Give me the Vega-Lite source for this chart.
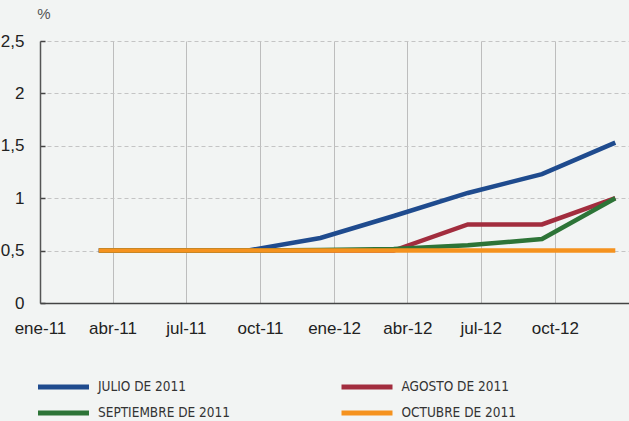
{
  "$schema": "https://vega.github.io/schema/vega-lite/v6.json",
  "width": 589,
  "height": 262,
  "autosize": {"type": "none"},
  "padding": {"left": 40, "top": 41, "right": 0, "bottom": 118},
  "background": "#f2f4f3",
  "config": {
    "view": {"stroke": null},
    "font": "Liberation Sans, Arial, Helvetica, sans-serif"
  },
  "data": {
    "values": [
      {"fecha": "2011-03-15", "serie": "JULIO DE 2011", "valor": 0.5},
      {"fecha": "2011-06-15", "serie": "JULIO DE 2011", "valor": 0.5},
      {"fecha": "2011-09-15", "serie": "JULIO DE 2011", "valor": 0.5},
      {"fecha": "2011-12-15", "serie": "JULIO DE 2011", "valor": 0.62},
      {"fecha": "2012-03-15", "serie": "JULIO DE 2011", "valor": 0.83},
      {"fecha": "2012-06-15", "serie": "JULIO DE 2011", "valor": 1.05},
      {"fecha": "2012-09-15", "serie": "JULIO DE 2011", "valor": 1.23},
      {"fecha": "2012-12-15", "serie": "JULIO DE 2011", "valor": 1.53},
      {"fecha": "2011-03-15", "serie": "AGOSTO DE 2011", "valor": 0.5},
      {"fecha": "2011-06-15", "serie": "AGOSTO DE 2011", "valor": 0.5},
      {"fecha": "2011-09-15", "serie": "AGOSTO DE 2011", "valor": 0.5},
      {"fecha": "2011-12-15", "serie": "AGOSTO DE 2011", "valor": 0.5},
      {"fecha": "2012-03-15", "serie": "AGOSTO DE 2011", "valor": 0.5},
      {"fecha": "2012-06-15", "serie": "AGOSTO DE 2011", "valor": 0.75},
      {"fecha": "2012-09-15", "serie": "AGOSTO DE 2011", "valor": 0.75},
      {"fecha": "2012-12-15", "serie": "AGOSTO DE 2011", "valor": 1.0},
      {"fecha": "2011-03-15", "serie": "SEPTIEMBRE DE 2011", "valor": 0.5},
      {"fecha": "2011-06-15", "serie": "SEPTIEMBRE DE 2011", "valor": 0.5},
      {"fecha": "2011-09-15", "serie": "SEPTIEMBRE DE 2011", "valor": 0.5},
      {"fecha": "2011-12-15", "serie": "SEPTIEMBRE DE 2011", "valor": 0.505},
      {"fecha": "2012-03-15", "serie": "SEPTIEMBRE DE 2011", "valor": 0.515},
      {"fecha": "2012-06-15", "serie": "SEPTIEMBRE DE 2011", "valor": 0.55},
      {"fecha": "2012-09-15", "serie": "SEPTIEMBRE DE 2011", "valor": 0.61},
      {"fecha": "2012-12-15", "serie": "SEPTIEMBRE DE 2011", "valor": 1.0},
      {"fecha": "2011-03-15", "serie": "OCTUBRE DE 2011", "valor": 0.5},
      {"fecha": "2011-06-15", "serie": "OCTUBRE DE 2011", "valor": 0.5},
      {"fecha": "2011-09-15", "serie": "OCTUBRE DE 2011", "valor": 0.5},
      {"fecha": "2011-12-15", "serie": "OCTUBRE DE 2011", "valor": 0.5},
      {"fecha": "2012-03-15", "serie": "OCTUBRE DE 2011", "valor": 0.5},
      {"fecha": "2012-06-15", "serie": "OCTUBRE DE 2011", "valor": 0.5},
      {"fecha": "2012-09-15", "serie": "OCTUBRE DE 2011", "valor": 0.5},
      {"fecha": "2012-12-15", "serie": "OCTUBRE DE 2011", "valor": 0.5}
    ]
  },
  "mark": {"type": "line", "strokeWidth": 4.5, "strokeCap": "butt", "strokeJoin": "miter"},
  "encoding": {
    "x": {
      "field": "fecha",
      "type": "temporal",
      "scale": {
        "type": "utc",
        "domain": [
          {"year": 2011, "month": 1, "date": 1, "utc": true},
          {"year": 2013, "month": 1, "date": 1, "utc": true}
        ]
      },
      "axis": {
        "title": null,
        "values": [
          {"year": 2011, "month": 1, "date": 1, "utc": true},
          {"year": 2011, "month": 4, "date": 1, "utc": true},
          {"year": 2011, "month": 7, "date": 1, "utc": true},
          {"year": 2011, "month": 10, "date": 1, "utc": true},
          {"year": 2012, "month": 1, "date": 1, "utc": true},
          {"year": 2012, "month": 4, "date": 1, "utc": true},
          {"year": 2012, "month": 7, "date": 1, "utc": true},
          {"year": 2012, "month": 10, "date": 1, "utc": true}
        ],
        "labelExpr": "['ene','feb','mar','abr','may','jun','jul','ago','sep','oct','nov','dic'][utcmonth(datum.value)] + '-' + utcFormat(datum.value, '%y')",
        "labelFontSize": 17,
        "labelColor": "#222222",
        "labelPadding": 17,
        "labelFlush": false,
        "ticks": false,
        "domainColor": "#444444",
        "domainWidth": 1.5,
        "grid": true,
        "gridColor": "#bdbdbd",
        "gridWidth": 1
      }
    },
    "y": {
      "field": "valor",
      "type": "quantitative",
      "scale": {"domain": [0, 2.5], "nice": false, "zero": true},
      "axis": {
        "title": "%",
        "titleAngle": 0,
        "titleX": 3.5,
        "titleY": -27.5,
        "titleAlign": "center",
        "titleBaseline": "middle",
        "titleFontSize": 15,
        "titleFontWeight": "normal",
        "titleColor": "#555555",
        "values": [0, 0.5, 1, 1.5, 2, 2.5],
        "labelExpr": "replace(toString(datum.value), '.', ',')",
        "labelFontSize": 17,
        "labelColor": "#222222",
        "labelPadding": 21,
        "tickSize": -5,
        "tickColor": "#444444",
        "tickWidth": 1.5,
        "domainColor": "#555555",
        "domainWidth": 1.5,
        "grid": true,
        "gridColor": "#c4c4c4",
        "gridDash": [4, 3],
        "gridWidth": 1
      }
    },
    "color": {
      "field": "serie",
      "type": "nominal",
      "scale": {
        "domain": ["JULIO DE 2011", "AGOSTO DE 2011", "SEPTIEMBRE DE 2011", "OCTUBRE DE 2011"],
        "range": ["#1f4b8e", "#a22d3e", "#2d7437", "#f5921e"]
      },
      "legend": {
        "title": null,
        "orient": "none",
        "legendX": -4.5,
        "legendY": 338,
        "columns": 2,
        "direction": "horizontal",
        "padding": 0,
        "symbolType": "stroke",
        "symbolSize": 2601,
        "symbolStrokeWidth": 5,
        "clipHeight": 16,
        "rowPadding": 10,
        "columnPadding": 108.5,
        "labelOffset": 6.5,
        "labelFont": "DejaVu Sans Condensed, Liberation Sans Narrow, sans-serif",
        "labelFontSize": 13.5,
        "labelColor": "#333333",
        "labelLimit": 300
      }
    }
  }
}
